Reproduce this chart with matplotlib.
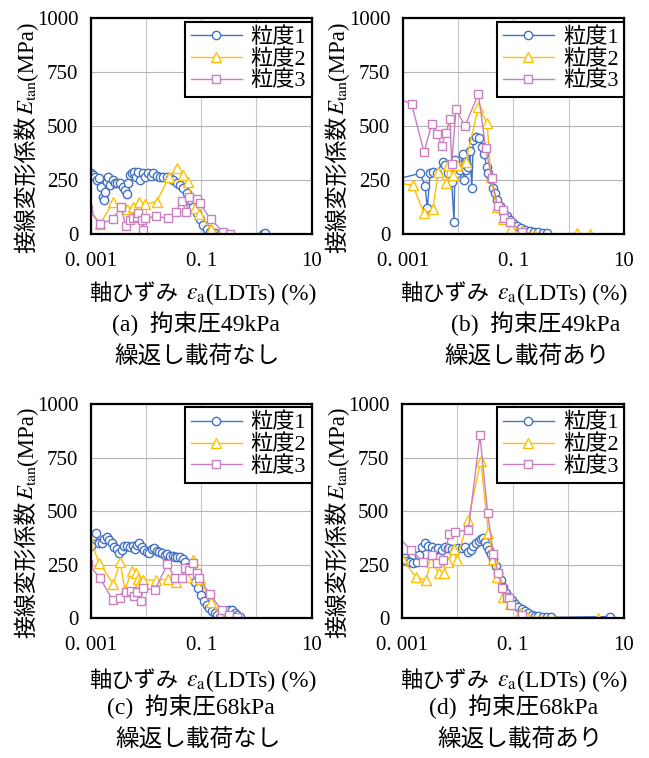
import matplotlib
import matplotlib.pyplot as plt
from matplotlib.ticker import LogLocator, NullFormatter

matplotlib.use('Agg')

plt.rcParams['font.family'] = ['Liberation Serif', 'Noto Sans CJK JP']
plt.rcParams['mathtext.fontset'] = 'stix'

BLUE = '#4472C4'
ORANGE = '#FFC000'
PINK = '#C97FC0'
LABELS = ['粒度1', '粒度2', '粒度3']

# (a) 49kPa, no cyclic loading
a_x1 = [0.001, 0.00109, 0.0012, 0.00132, 0.00144, 0.00154, 0.00165, 0.00174, 0.00184, 0.00195,
        0.00209, 0.00224, 0.0025, 0.00276, 0.00304, 0.00339, 0.00379, 0.00418, 0.00448, 0.0048,
        0.00514, 0.0056, 0.00609, 0.00661, 0.00719, 0.00781, 0.00873, 0.00975, 0.0109, 0.0122,
        0.0136, 0.0156, 0.018, 0.0206, 0.0237, 0.0272, 0.0313, 0.0359, 0.0413, 0.0474,
        0.0545, 0.0626, 0.072, 0.0827, 0.095, 0.109, 0.125, 0.144, 0.178, 0.217, 1.33, 1.45]
a_y1 = [281, 274, 266, 250, 258, 219, 173, 158, 196, 243,
        266, 227, 250, 238, 235, 238, 219, 204, 184, 235,
        274, 281, 289, 266, 289, 250, 281, 266, 284, 269,
        281, 269, 266, 266, 263, 258, 250, 238, 227, 212,
        189, 158, 127, 96, 68, 42, 22, 9, 3, 0, 2, 3]
a_x2 = [0.0009, 0.00147, 0.00257, 0.00448, 0.0059, 0.00751, 0.00961, 0.0156, 0.0265, 0.0359,
        0.0474, 0.057, 0.0775, 0.0924, 0.15, 0.251]
a_y2 = [125, 46, 150, 114, 127, 150, 139, 150, 266, 308, 274, 243, 119, 93, 22, 0]
a_x3 = [0.0009, 0.00147, 0.0025, 0.00349, 0.00436, 0.00514, 0.0059, 0.0068, 0.00728, 0.00837,
        0.00873, 0.00961, 0.0152, 0.0254, 0.0349, 0.0442, 0.0531, 0.061, 0.0827, 0.095,
        0.149, 0.244, 0.33]
a_y3 = [118, 46, 68, 124, 37, 65, 72, 80, 96, 65,
        19, 72, 83, 72, 104, 153, 104, 170, 161, 142,
        68, 11, 0]

# (b) 49kPa, with cyclic loading
b_x1 = [0.0008, 0.00206, 0.00253, 0.00279, 0.00312, 0.00348, 0.00411, 0.00528, 0.0058, 0.0067,
        0.00767, 0.00846, 0.00884, 0.00969, 0.0109, 0.0121, 0.0128, 0.0139, 0.0153, 0.0164,
        0.0177, 0.0189, 0.0211, 0.0243, 0.0267, 0.0295, 0.0329, 0.0354, 0.039, 0.0422,
        0.0466, 0.0514, 0.0572, 0.0659, 0.0757, 0.0871, 0.1, 0.118, 0.139, 0.165,
        0.2, 0.235, 0.282, 0.337, 0.409]
b_y1 = [255, 281, 224, 119, 281, 289, 281, 335, 320, 281,
        243, 57, 343, 281, 297, 371, 250, 297, 312, 386,
        212, 436, 448, 444, 405, 371, 312, 281, 253, 212,
        189, 158, 130, 104, 83, 65, 49, 37, 28, 19,
        15, 11, 8, 6, 3]
b_x2 = [0.0008, 0.00152, 0.00243, 0.00348, 0.00441, 0.00606, 0.0067, 0.008, 0.00944, 0.0139,
        0.0233, 0.0337, 0.039, 0.05, 0.0639, 0.0895, 0.141, 0.245, 1.39, 2.43]
b_y2 = [235, 227, 96, 114, 289, 235, 320, 274, 320, 335,
        590, 513, 266, 127, 68, 29, 19, -5, 3, 0]
b_x3 = [0.0008, 0.00145, 0.00243, 0.00334, 0.00423, 0.00506, 0.00606, 0.00716, 0.00767, 0.0092,
        0.0134, 0.0233, 0.0316, 0.0405, 0.052, 0.0639, 0.0674, 0.0871, 0.141]
b_y3 = [630, 603, 379, 508, 462, 410, 470, 532, 325, 578,
        501, 649, 397, 261, 130, 111, 73, 57, 11]

# (c) 68kPa, no cyclic loading
c_x1 = [0.001, 0.00108, 0.00125, 0.0014, 0.00158, 0.00174, 0.00195, 0.00218, 0.0024, 0.00264,
        0.00295, 0.0033, 0.00364, 0.004, 0.00448, 0.00514, 0.00575, 0.00635, 0.0068, 0.0076,
        0.00837, 0.00922, 0.0103, 0.0115, 0.0127, 0.014, 0.0156, 0.0174, 0.0195, 0.0218,
        0.0244, 0.0273, 0.0306, 0.0336, 0.037, 0.0414, 0.0462, 0.0518, 0.0585, 0.067,
        0.077, 0.0885, 0.099, 0.112, 0.125, 0.139, 0.156, 0.178, 0.195, 0.218,
        0.244, 0.282, 0.322, 0.354, 0.408, 0.451, 0.505]
c_y1 = [339, 384, 400, 353, 350, 369, 378, 364, 350, 334,
        322, 306, 319, 339, 336, 333, 336, 322, 342, 350,
        334, 319, 311, 306, 322, 327, 316, 311, 303, 295,
        300, 291, 291, 285, 288, 285, 275, 264, 241, 202,
        171, 140, 109, 82, 62, 47, 36, 23, 16, 8,
        11, 23, 39, 39, 23, 16, 5]
c_x2 = [0.0009, 0.00142, 0.00257, 0.00339, 0.00418, 0.00552, 0.00661, 0.00728, 0.00781, 0.00873,
        0.0152, 0.0254, 0.0349, 0.0561, 0.072, 0.095, 0.149, 0.218, 0.451]
c_y2 = [385, 260, 160, 264, 132, 221, 210, 182, 171, 179,
        179, 182, 171, 194, 272, 182, 78, 16, 0]
c_x3 = [0.0009, 0.00147, 0.0025, 0.00339, 0.00436, 0.0053, 0.00609, 0.0068, 0.00801, 0.00898,
        0.0146, 0.0244, 0.0336, 0.0442, 0.0509, 0.0608, 0.072, 0.085, 0.0925, 0.144,
        0.234, 0.322, 0.438]
c_y3 = [255, 187, 86, 93, 124, 129, 104, 124, 82, 140,
        132, 253, 187, 187, 233, 226, 260, 213, 187, 112,
        39, 16, 8]

# (d) 68kPa, with cyclic loading
d_x1 = [0.001, 0.00115, 0.00126, 0.00141, 0.00162, 0.00186, 0.00202, 0.00229, 0.00263, 0.00302,
        0.00346, 0.00397, 0.00457, 0.00524, 0.00602, 0.00691, 0.00794, 0.00911, 0.0105, 0.012,
        0.0138, 0.0158, 0.0174, 0.0195, 0.0217, 0.0243, 0.0272, 0.0295, 0.0319, 0.0346,
        0.0377, 0.0411, 0.0445, 0.049, 0.0539, 0.0607, 0.0675, 0.0749, 0.084, 0.095,
        0.109, 0.125, 0.144, 0.165, 0.19, 0.218, 0.251, 0.288, 0.345, 0.404, 0.479, 5.6]
d_y1 = [272, 280, 269, 264, 257, 264, 295, 334, 353, 337,
        334, 319, 327, 319, 334, 327, 322, 319, 327, 327,
        331, 311, 319, 337, 353, 362, 369, 373, 358, 337,
        319, 300, 275, 246, 213, 179, 148, 120, 101, 86,
        67, 54, 42, 33, 23, 17, 12, 9, 6, 5, 5, 8]
d_x2 = [0.001, 0.00181, 0.00274, 0.00332, 0.00476, 0.00577, 0.00691, 0.00872, 0.00974, 0.0158,
        0.0264, 0.0362, 0.0445, 0.0511, 0.0675, 0.089, 0.134, 0.177, 3.45]
d_y2 = [280, 191, 179, 264, 210, 213, 264, 322, 272, 459,
        736, 400, 275, 194, 101, 67, 23, 5, 2]
d_x3 = [0.0008, 0.00145, 0.00245, 0.00346, 0.00438, 0.00547, 0.00721, 0.0091, 0.0158, 0.0256,
        0.0353, 0.0445, 0.0549, 0.0628, 0.0795, 0.0867, 0.0913, 0.144]
d_y3 = [390, 319, 264, 295, 257, 272, 393, 404, 412, 855,
        490, 300, 213, 140, 98, 93, 62, 16]

PANELS = [
    ([a_x1, a_x2, a_x3], [a_y1, a_y2, a_y3], '(a)  拘束圧49kPa', '繰返し載荷なし'),
    ([b_x1, b_x2, b_x3], [b_y1, b_y2, b_y3], '(b)  拘束圧49kPa', '繰返し載荷あり'),
    ([c_x1, c_x2, c_x3], [c_y1, c_y2, c_y3], '(c)  拘束圧68kPa', '繰返し載荷なし'),
    ([d_x1, d_x2, d_x3], [d_y1, d_y2, d_y3], '(d)  拘束圧68kPa', '繰返し載荷あり'),
]

# axis titles are split into pieces so the CJK part and the math part each get a font
YLABEL = [('接線変形係数', 16.5, 0), (r'$E_{\mathrm{tan}}$', 16.5, 0), ('(MPa)', 16.5, 0)]
XLABEL = [('軸ひずみ', 16, 8), (r'$\varepsilon_{\mathrm{a}}$', 17, 0), ('(LDTs) (%)', 17, 0)]

W, H = 649, 758
# axes boxes in pixels: left, top, right, bottom
BOXES = [(90.7, 18.3, 311.7, 234.0), (402.7, 18.3, 624.0, 234.0),
         (90.7, 404.0, 311.7, 618.3), (401.7, 404.0, 624.0, 618.3)]
# caption centres in pixels: (x1, y1, x2, y2)
CAPTIONS = [(196, 324, 197, 358), (536, 324, 527, 358),
            (191, 707, 198, 741), (514, 707, 520, 741)]
# y label (baseline x, centre y), x label (centre x, baseline y), pixels from top-left
YLABEL_POS = [(33, 137), (344, 137), (33, 522), (344, 522)]
XLABEL_POS = [(203, 300), (514, 300), (203, 687), (514, 687)]


def chain_text(fig, pieces, along, baseline, rotation=0):
    """Lay text pieces end to end on one baseline, centred on `along` (pixels)."""
    renderer = fig.canvas.get_renderer()
    texts, lengths = [], []
    for s, size, gap in pieces:
        t = fig.text(0, 0, s, fontsize=size, ha='left', va='baseline',
                     rotation=rotation, rotation_mode='anchor')
        bb = t.get_window_extent(renderer)
        texts.append(t)
        lengths.append((bb.height if rotation == 90 else bb.width) + gap)
    pos = along - sum(lengths) / 2
    for t, length in zip(texts, lengths):
        if rotation == 90:
            t.set_position((baseline / W, pos / H))
        else:
            t.set_position((pos / W, baseline / H))
        pos += length


def draw_panel(fig, box, xs, ys):
    l, t, r, b = box
    ax = fig.add_axes([l / W, 1 - b / H, (r - l) / W, (b - t) / H])
    styles = [(BLUE, 'o', 6), (ORANGE, '^', 7), (PINK, 's', 6)]
    for (color, marker, ms), x, y, label in zip(styles, xs, ys, LABELS):
        ax.plot(x, y, color=color, marker=marker, markersize=ms, markerfacecolor='white',
                markeredgewidth=1.0, linewidth=1.0, label=label)

    ax.set_xscale('log')
    ax.set_xlim(0.001, 10)
    ax.set_ylim(0, 1000)
    ax.set_xticks([0.001, 0.01, 0.1, 1, 10], labels=['0. 001', '', '0. 1', '', '10'])
    ax.xaxis.set_minor_locator(LogLocator(base=10, subs=range(2, 10)))
    ax.xaxis.set_minor_formatter(NullFormatter())
    ax.set_yticks([0, 250, 500, 750, 1000])
    ax.grid(True, which='both', axis='x', color='#C8C8C8', linewidth=0.8)
    ax.grid(True, which='major', axis='y', color='#B4B4B4', linewidth=0.8)
    ax.set_axisbelow(True)
    ax.tick_params(which='both', length=0, labelsize=15)
    ax.tick_params(axis='x', pad=13)
    ax.tick_params(axis='y', pad=9)
    for spine in ax.spines.values():
        spine.set_linewidth(1.6)
        spine.set_color('black')

    leg = ax.legend(loc='upper right', bbox_to_anchor=(1.0, 0.985), borderaxespad=0,
                    fontsize=16, frameon=True, fancybox=False, framealpha=1,
                    edgecolor='black', handlelength=2.3, handletextpad=0.4,
                    labelspacing=0.05, borderpad=0.25)
    leg.get_frame().set_linewidth(1.5)
    return ax


fig = plt.figure(figsize=(W / 100, H / 100), dpi=100)

for i, ((xs, ys, cap1, cap2), box, (cx1, cy1, cx2, cy2)) in enumerate(zip(PANELS, BOXES, CAPTIONS)):
    draw_panel(fig, box, xs, ys)
    yx, yc = YLABEL_POS[i]
    chain_text(fig, YLABEL, H - yc, yx, rotation=90)
    xc, xb = XLABEL_POS[i]
    chain_text(fig, XLABEL, xc, H - xb)
    fig.text(cx1 / W, 1 - cy1 / H, cap1, fontsize=17, ha='center', va='center')
    fig.text(cx2 / W, 1 - cy2 / H, cap2, fontsize=17, ha='center', va='center')

fig.savefig('out.png', dpi=100)
